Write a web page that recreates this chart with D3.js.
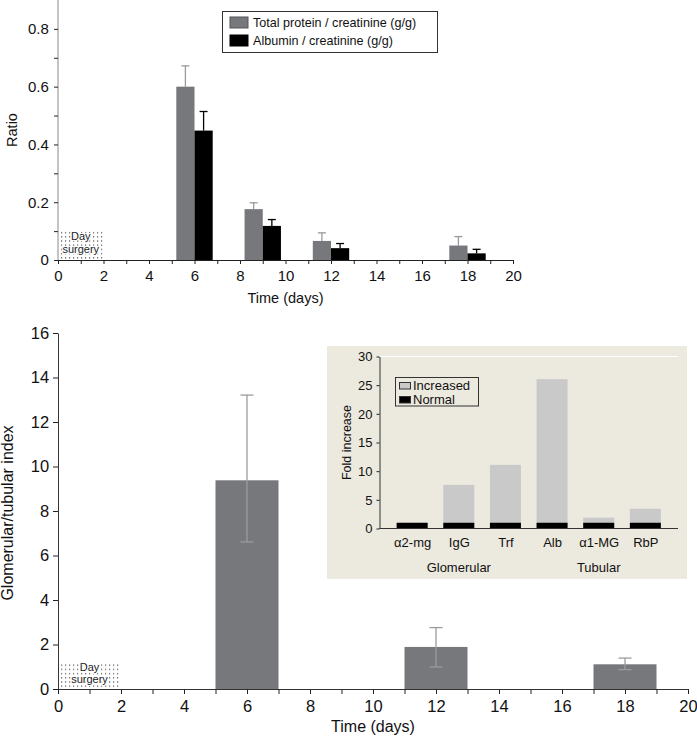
<!DOCTYPE html>
<html>
<head>
<meta charset="utf-8">
<script src="https://cdn.jsdelivr.net/npm/d3@7"></script>
<style>
  html, body { margin: 0; padding: 0; background: #fff; }
  svg { display: block; font-family: "Liberation Sans", Arial, sans-serif; }
</style>
</head>
<body>
<svg id="chart" width="697" height="744"></svg>
<script>
// ---------- Data ----------
// Top panel: urinary ratios
const topDays = [6, 9, 12, 18];
const totalProtein = [0.600, 0.176, 0.066, 0.050];
const totalProteinErr = [0.072, 0.022, 0.028, 0.031];
const albumin = [0.448, 0.118, 0.041, 0.023];
const albuminErr = [0.066, 0.022, 0.016, 0.014];
const topSeriesNames = ["Total protein / creatinine (g/g)", "Albumin / creatinine (g/g)"];
const topYTicks = [0, 0.2, 0.4, 0.6, 0.8];

// Bottom panel: glomerular/tubular index
const bottomDays = [6, 12, 18];
const gtIndex = [9.38, 1.89, 1.11];
const gtErrHigh = [13.21, 2.76, 1.39];
const gtErrLow = [6.61, 0.99, 0.87];
const bottomYTicks = [0, 2, 4, 6, 8, 10, 12, 14, 16];

const xTicks = [0, 2, 4, 6, 8, 10, 12, 14, 16, 18, 20];

// Inset: fold increase
const insetCategories = ["α2-mg", "IgG", "Trf", "Alb", "α1-MG", "RbP"];
const insetIncreased = [1.0, 7.6, 11.1, 26.05, 1.9, 3.45];
const insetNormal = [1, 1, 1, 1, 1, 1];
const insetYTicks = [0, 5, 10, 15, 20, 25, 30];
const insetGroups = ["Glomerular", "Tubular"];
const insetGroupMembers = [["α2-mg", "IgG", "Trf"], ["Alb", "α1-MG", "RbP"]];
const insetLegend = ["Increased", "Normal"];

// ---------- Styles ----------
const GRAY = "#77787c";
const LIGHT = "#c9c9c9";
const BEIGE = "#ece9df";

const svg = d3.select("#chart");

// dotted pattern for "Day surgery" box
const defs = svg.append("defs");
const pat = defs.append("pattern").attr("id", "dots").attr("patternUnits", "userSpaceOnUse")
  .attr("width", 4).attr("height", 4.2);
pat.append("rect").attr("x", 1).attr("y", 1).attr("width", 1.2).attr("height", 1.2).attr("fill", "#555");

function styleAxis(g, lineColor) {
  g.select(".domain").attr("stroke", lineColor || "#222").attr("stroke-width", 1);
  g.selectAll(".tick line").attr("stroke", "#222");
  g.selectAll(".tick text").attr("fill", "#111").style("font-family", '"Liberation Sans", Arial, sans-serif');
}

function daySurgery(x, y, yTop, fontSize) {
  const x0 = x(0), x1 = x(2), y0 = y(0), y1 = y(yTop);
  svg.append("rect").attr("x", x0 + 1).attr("y", y1).attr("width", x1 - x0 - 1).attr("height", y0 - y1)
    .attr("fill", "url(#dots)");
  const cx = (x0 + x1) / 2;
  const h = y0 - y1;
  [["Day", y1 + h * 0.31], ["surgery", y1 + h * 0.77]].forEach(([t, yy]) => {
    svg.append("text").attr("x", cx).attr("y", yy).attr("text-anchor", "middle")
      .attr("font-size", fontSize).attr("fill", "#222")
      .attr("stroke", "#fff").attr("stroke-width", 2.2).attr("paint-order", "stroke")
      .text(t);
  });
}

// ---------- Top panel ----------
{
  const x = d3.scaleLinear().domain([0, 20]).range([58, 513]);
  const y = d3.scaleLinear().domain([0, 0.9]).range([260, 0]);
  const bw = 0.8; // days

  daySurgery(x, y, 0.1, 11);

  const series = [
    { vals: totalProtein, err: totalProteinErr, fill: GRAY, errColor: "#9a9a9a", off: -bw },
    { vals: albumin, err: albuminErr, fill: "#000", errColor: "#000", off: 0 }
  ];
  series.forEach(s => {
    topDays.forEach((d, i) => {
      const xl = x(d + s.off), xr = x(d + s.off + bw);
      const cx = (xl + xr) / 2;
      svg.append("line").attr("x1", cx).attr("x2", cx).attr("y1", y(s.vals[i])).attr("y2", y(s.vals[i] + s.err[i]))
        .attr("stroke", s.errColor).attr("stroke-width", 1.3);
      svg.append("line").attr("x1", cx - 4).attr("x2", cx + 4).attr("y1", y(s.vals[i] + s.err[i])).attr("y2", y(s.vals[i] + s.err[i]))
        .attr("stroke", s.errColor).attr("stroke-width", 1.3);
      svg.append("rect").attr("x", xl).attr("y", y(s.vals[i])).attr("width", xr - xl).attr("height", y(0) - y(s.vals[i]))
        .attr("fill", s.fill);
    });
  });

  const xa = svg.append("g").attr("transform", `translate(0,${y(0)})`)
    .call(d3.axisBottom(x).tickValues(d3.range(0, 21)).tickSize(4).tickSizeOuter(0)
      .tickFormat(d => d % 2 === 0 ? d : ""));
  xa.selectAll(".tick text").attr("font-size", 15).attr("dy", "0.9em");
  styleAxis(xa);

  const ya = svg.append("g").attr("transform", `translate(${x(0)},0)`)
    .call(d3.axisLeft(y).tickValues(d3.range(0, 9).map(v => v / 10)).tickSize(4).tickSizeOuter(0)
      .tickFormat(d => topYTicks.some(t => Math.abs(t - d) < 1e-9) ? (d === 0 ? "0" : d3.format(".1f")(d)) : ""));
  ya.select(".domain").attr("d", `M0,${y(0)}V${y(0.9)}`);
  ya.selectAll(".tick text").attr("font-size", 15).attr("dx", "-0.15em");
  styleAxis(ya, "#8a8a8a");

  svg.append("text").attr("x", (x(0) + x(20)) / 2).attr("y", 303).attr("text-anchor", "middle")
    .attr("font-size", 14.5).attr("fill", "#111").text("Time (days)");
  svg.append("text").attr("transform", `translate(17,${y(0.45)}) rotate(-90)`).attr("text-anchor", "middle")
    .attr("font-size", 14.5).attr("fill", "#111").text("Ratio");

  const lg = svg.append("g");
  lg.append("rect").attr("x", 222.5).attr("y", 11.5).attr("width", 215).attr("height", 41)
    .attr("fill", "#fff").attr("stroke", "#333").attr("stroke-width", 1);
  [GRAY, "#000"].forEach((c, i) => {
    lg.append("rect").attr("x", 230).attr("y", 17 + i * 18).attr("width", 18).attr("height", 11)
      .attr("fill", c).attr("stroke", i === 0 ? "#555" : "#000");
    lg.append("text").attr("x", 253).attr("y", 27 + i * 18).attr("font-size", 12.6).attr("fill", "#111")
      .text(topSeriesNames[i]);
  });
}

// ---------- Bottom panel ----------
{
  const x = d3.scaleLinear().domain([0, 20]).range([58, 688]);
  const y = d3.scaleLinear().domain([0, 16]).range([689, 333]);
  const bw = 2;

  daySurgery(x, y, 1.2, 11);

  bottomDays.forEach((d, i) => {
    const xl = x(d - bw / 2), xr = x(d + bw / 2), cx = x(d);
    svg.append("rect").attr("x", xl).attr("y", y(gtIndex[i])).attr("width", xr - xl).attr("height", y(0) - y(gtIndex[i]))
      .attr("fill", GRAY);
    const ec = "#9b9b9b";
    svg.append("line").attr("x1", cx).attr("x2", cx).attr("y1", y(gtErrLow[i])).attr("y2", y(gtErrHigh[i]))
      .attr("stroke", ec).attr("stroke-width", 1.3);
    [gtErrLow[i], gtErrHigh[i]].forEach(v => {
      svg.append("line").attr("x1", cx - 6.5).attr("x2", cx + 6.5).attr("y1", y(v)).attr("y2", y(v))
        .attr("stroke", ec).attr("stroke-width", 1.3);
    });
  });

  const xa = svg.append("g").attr("transform", `translate(0,${y(0)})`)
    .call(d3.axisBottom(x).tickValues(d3.range(0, 21)).tickSize(5).tickSizeOuter(0)
      .tickFormat(d => d % 2 === 0 ? d : ""));
  xa.selectAll(".tick text").attr("font-size", 16.5).attr("dy", "0.9em");
  styleAxis(xa, "#333");

  const ya = svg.append("g").attr("transform", `translate(${x(0)},0)`)
    .call(d3.axisLeft(y).tickValues(bottomYTicks).tickSize(5).tickSizeOuter(0));
  ya.selectAll(".tick text").attr("font-size", 16.5).attr("dx", "-0.05em");
  styleAxis(ya, "#333");

  svg.append("text").attr("x", 373).attr("y", 732).attr("text-anchor", "middle")
    .attr("font-size", 16).attr("fill", "#111").text("Time (days)");
  svg.append("text").attr("transform", `translate(13,${513}) rotate(-90)`).attr("text-anchor", "middle")
    .attr("font-size", 16).attr("fill", "#111").text("Glomerular/tubular index");
}

// ---------- Inset ----------
{
  svg.append("rect").attr("x", 327).attr("y", 346).attr("width", 360).attr("height", 233).attr("fill", BEIGE);
  const x = d3.scalePoint().domain(insetCategories).range([379.5, 678]).padding(0.7);
  const y = d3.scaleLinear().domain([0, 30]).range([528.5, 356.5]);
  const bw = 31;

  svg.append("line").attr("x1", 379.5).attr("x2", 678).attr("y1", y(30)).attr("y2", y(30))
    .attr("stroke", "#fff").attr("stroke-width", 1.2);

  insetCategories.forEach((c, i) => {
    svg.append("rect").attr("x", x(c) - bw / 2).attr("y", y(insetIncreased[i])).attr("width", bw)
      .attr("height", y(0) - y(insetIncreased[i])).attr("fill", LIGHT);
    svg.append("rect").attr("x", x(c) - bw / 2).attr("y", y(insetNormal[i])).attr("width", bw)
      .attr("height", y(0) - y(insetNormal[i])).attr("fill", "#000");
  });

  const xa = svg.append("g").attr("transform", `translate(0,${y(0)})`)
    .call(d3.axisBottom(x).tickSize(0).tickSizeOuter(0).tickPadding(9));
  xa.select(".domain").attr("d", "M379.5,0H678");
  xa.selectAll(".tick text").attr("font-size", 13);
  styleAxis(xa, "#333");

  const ya = svg.append("g").attr("transform", `translate(379.5,0)`)
    .call(d3.axisLeft(y).tickValues(insetYTicks).tickSize(3).tickSizeOuter(0).tickPadding(4));
  ya.selectAll(".tick text").attr("font-size", 13);
  styleAxis(ya, "#333");

  insetGroups.forEach((g, i) => {
    const m = insetGroupMembers[i];
    const cx = (x(m[0]) + x(m[m.length - 1])) / 2;
    svg.append("text").attr("x", cx).attr("y", 572).attr("text-anchor", "middle")
      .attr("font-size", 13).attr("fill", "#111").text(g);
  });

  svg.append("text").attr("transform", `translate(351,${y(15)}) rotate(-90)`).attr("text-anchor", "middle")
    .attr("font-size", 12.5).attr("fill", "#111").text("Fold increase");

  svg.append("rect").attr("x", 395.5).attr("y", 377.5).attr("width", 83).attr("height", 28.5)
    .attr("fill", "none").attr("stroke", "#333").attr("stroke-width", 1);
  [LIGHT, "#000"].forEach((c, i) => {
    svg.append("rect").attr("x", 399.5).attr("y", 382.5 + i * 14).attr("width", 11).attr("height", 6.5)
      .attr("fill", c).attr("stroke", "#333").attr("stroke-width", 1);
    svg.append("text").attr("x", 413).attr("y", 390 + i * 14).attr("font-size", 13).attr("fill", "#111")
      .text(insetLegend[i]);
  });
}
</script>
</body>
</html>
